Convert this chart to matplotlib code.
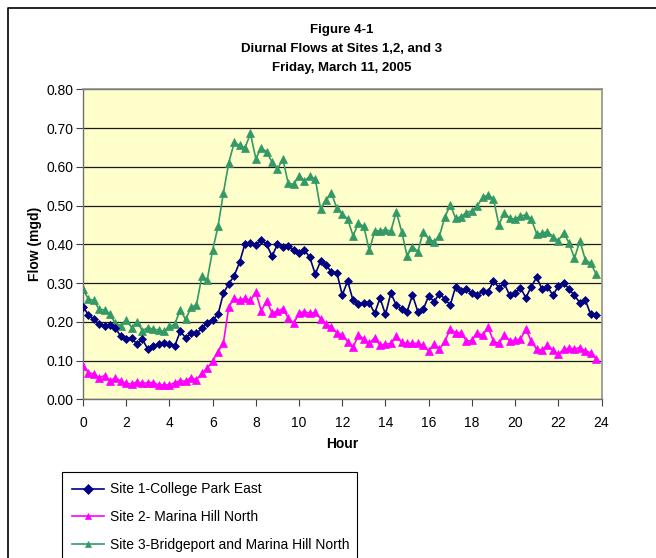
import numpy as np
import matplotlib
matplotlib.use("Agg")
import matplotlib.pyplot as plt
from matplotlib.lines import Line2D

plt.rcParams['font.family'] = ['Liberation Sans Narrow', 'Liberation Sans', 'DejaVu Sans']

# 15-minute readings, hour 0.00 .. 23.75
hours = np.arange(96) * 0.25

site1 = [0.239, 0.218, 0.206, 0.194, 0.188, 0.192, 0.183, 0.163, 0.155, 0.159, 0.142, 0.155,
         0.129, 0.138, 0.142, 0.146, 0.142, 0.138, 0.175, 0.159, 0.170, 0.170, 0.183, 0.198,
         0.205, 0.219, 0.274, 0.298, 0.319, 0.354, 0.402, 0.404, 0.398, 0.411, 0.400, 0.369,
         0.400, 0.394, 0.396, 0.384, 0.377, 0.385, 0.366, 0.323, 0.357, 0.347, 0.328, 0.327,
         0.269, 0.305, 0.255, 0.245, 0.249, 0.249, 0.222, 0.261, 0.219, 0.274, 0.243, 0.232,
         0.226, 0.269, 0.226, 0.232, 0.267,
         0.252, 0.273, 0.259, 0.243, 0.291, 0.280, 0.284, 0.275, 0.268, 0.280, 0.277, 0.305,
         0.288, 0.299, 0.268, 0.274, 0.288, 0.262, 0.291, 0.315, 0.284, 0.291, 0.268, 0.292,
         0.301, 0.284, 0.268, 0.249, 0.256, 0.219, 0.217]

site2 = [0.086, 0.069, 0.065, 0.056, 0.061, 0.047, 0.056, 0.047, 0.041, 0.039, 0.045, 0.041,
         0.043, 0.043, 0.037, 0.037, 0.037, 0.043, 0.047, 0.047, 0.056, 0.050, 0.067, 0.080,
         0.099, 0.123, 0.146, 0.239, 0.261, 0.255, 0.261, 0.255, 0.277, 0.228, 0.254, 0.223,
         0.227, 0.234, 0.210, 0.196, 0.222, 0.226, 0.222, 0.224, 0.208, 0.194, 0.186, 0.172,
         0.166, 0.149, 0.134, 0.166, 0.155, 0.144, 0.159, 0.140, 0.142, 0.144, 0.163, 0.147,
         0.144, 0.144, 0.144, 0.139, 0.125,
         0.142, 0.129, 0.150, 0.181, 0.172, 0.172, 0.150, 0.152, 0.172, 0.165, 0.186, 0.150,
         0.144, 0.165, 0.151, 0.152, 0.155, 0.181, 0.150, 0.129, 0.127, 0.140, 0.127, 0.116,
         0.129, 0.132, 0.130, 0.133, 0.125, 0.120, 0.104]

site3 = [0.284, 0.259, 0.255, 0.232, 0.231, 0.219, 0.196, 0.190, 0.205, 0.185, 0.200, 0.177,
         0.185, 0.181, 0.179, 0.175, 0.188, 0.194, 0.231, 0.206, 0.237, 0.243, 0.317, 0.308,
         0.385, 0.446, 0.533, 0.611, 0.663, 0.655, 0.649, 0.686, 0.621, 0.648, 0.639, 0.612,
         0.594, 0.620, 0.557, 0.555, 0.577, 0.564, 0.575, 0.569, 0.490, 0.514, 0.532, 0.493,
         0.478, 0.465, 0.422, 0.454, 0.446, 0.384, 0.434, 0.435, 0.437, 0.434, 0.484, 0.433,
         0.370, 0.394, 0.381, 0.433, 0.413,
         0.407, 0.422, 0.470, 0.502, 0.467, 0.471, 0.482, 0.486, 0.499, 0.521, 0.527, 0.517,
         0.450, 0.482, 0.467, 0.465, 0.473, 0.476, 0.465, 0.427, 0.428, 0.433, 0.420, 0.409,
         0.430, 0.403, 0.364, 0.409, 0.360, 0.351, 0.323]

labels = ["Site 1-College Park East", "Site 2- Marina Hill North",
          "Site 3-Bridgeport and Marina Hill North"]
title_lines = ["Figure 4-1", "Diurnal Flows at Sites 1,2, and 3", "Friday, March 11, 2005"]
x_ticks = list(range(0, 25, 2))
y_ticks = [0.0, 0.1, 0.2, 0.3, 0.4, 0.5, 0.6, 0.7, 0.8]

W, H = 656, 558
fig = plt.figure(figsize=(W / 100, H / 100), dpi=100)
fig.patch.set_facecolor('white')

ax = fig.add_axes([83 / W, 1 - 399.3 / H, (601.5 - 83) / W, (399.3 - 89.3) / H])
ax.set_facecolor('#FFFFCC')

ax.plot(hours, site1, color='#000080', lw=1.2, marker='D', markersize=4.3,
        markeredgewidth=0.5, label=labels[0], zorder=4)
ax.plot(hours, site2, color='#FF00FF', lw=1.2, marker='^', markersize=6.3,
        markeredgewidth=0.5, label=labels[1], zorder=3)
ax.plot(hours, site3, color='#339966', lw=1.2, marker='^', markersize=6.3,
        markeredgewidth=0.5, label=labels[2], zorder=2)

ax.set_xlim(0, 24)
ax.set_ylim(0, 0.8)
ax.set_xticks(x_ticks)
ax.set_yticks(y_ticks)
ax.set_yticklabels([f"{v:.2f}" for v in y_ticks])
ax.tick_params(axis='both', direction='out', length=5, width=0.8, color='#404040',
               labelsize=10, pad=2)
ax.tick_params(axis='x', pad=7)
ax.yaxis.grid(True, color='#1a1a1a', lw=0.9)
ax.set_axisbelow(True)
for side in ['top', 'right']:
    ax.spines[side].set_color('#909090')
    ax.spines[side].set_linewidth(1.2)
for side in ['left', 'bottom']:
    ax.spines[side].set_color('#707070')
    ax.spines[side].set_linewidth(1.0)

ax.set_xlabel("Hour", fontsize=10, fontweight='bold', labelpad=5)
ax.set_ylabel("Flow (mgd)", fontsize=10, fontweight='bold', labelpad=3)

for line, ypix in zip(title_lines, [30, 49, 68]):
    fig.text(342 / W, 1 - ypix / H, line, ha='center', va='center', fontsize=9.5,
             fontweight='bold')

# outer frame (left and top edges visible)
fig.add_artist(Line2D([8 / W, 8 / W, 1.0], [0.0, 1 - 8 / H, 1 - 8 / H],
                      transform=fig.transFigure, color='black', lw=1.2))

handles, lbls = ax.get_legend_handles_labels()
leg = fig.legend(handles, lbls, loc='upper left',
                 bbox_to_anchor=(62 / W, 0.0, (357 - 62) / W, 1 - 472 / H),
                 mode='expand', fontsize=10, frameon=True, fancybox=False,
                 edgecolor='black', framealpha=1, borderaxespad=0,
                 handlelength=2.3, handletextpad=0.4, labelspacing=0.98,
                 borderpad=0.75)
leg.get_frame().set_linewidth(0.8)
for h in leg.legend_handles:
    h.set_markersize(5)

fig.savefig("out.png", dpi=100, facecolor='white')
